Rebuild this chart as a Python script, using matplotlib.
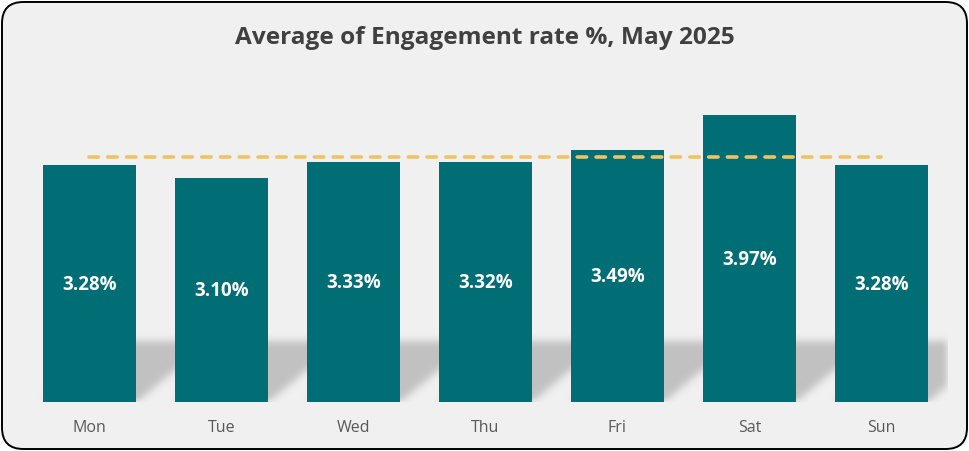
import matplotlib
matplotlib.use("Agg")
import matplotlib.pyplot as plt
import numpy as np
from matplotlib.patches import FancyBboxPatch

days = ['Mon', 'Tue', 'Wed', 'Thu', 'Fri', 'Sat', 'Sun']
rates = [3.28, 3.10, 3.33, 3.32, 3.49, 3.97, 3.28]
labels = ['3.28%', '3.10%', '3.33%', '3.32%', '3.49%', '3.97%', '3.28%']
title = 'Average of Engagement rate %, May 2025'

bg = '#F0F0F0'
teal = '#016D74'
W, H = 970, 452
plt.rcParams['font.family'] = ['Open Sans', 'DejaVu Sans']

fig = plt.figure(figsize=(W / 100, H / 100), dpi=100)
fig.patch.set_facecolor('white')

# rounded chart frame
frame = FancyBboxPatch((2 / W, 2 / H), (W - 5) / W, (H - 5) / H,
                       boxstyle='round,pad=0,rounding_size=0.022',
                       transform=fig.transFigure, facecolor=bg,
                       edgecolor='black', linewidth=1.4, mutation_aspect=W / H,
                       zorder=-10)
fig.patches.append(frame)

px_y = 72.2  # pixels per percent point
ax_bottom = 403
ymax = 4.6
ax = fig.add_axes([23.5 / W, (H - ax_bottom) / H, 924 / W, ymax * px_y / H])
ax.set_facecolor('none')

x = np.arange(len(days))
bar_w = 0.71
ax.bar(x, rates, width=bar_w, color=teal, zorder=3)

# soft slanted shadow behind the bars
nx, ny = 924, 90
gx = np.linspace(-0.5, 6.5, nx)
gy = np.linspace(0, ny / px_y, ny)
XX, YY = np.meshgrid(gx, gy)
slope = 0.65
sh_h = 0.85
mask = np.zeros_like(XX)
for xi in x:
    left = xi - bar_w / 2 + slope * YY
    right = xi + bar_w / 2 + slope * YY
    mask[(XX >= left) & (XX <= right) & (YY <= sh_h)] = 1.0
k = np.ones(9) / 9
for _ in range(2):
    mask = np.apply_along_axis(lambda r: np.convolve(r, k, mode='same'), 1, mask)
    mask = np.apply_along_axis(lambda c: np.convolve(c, k, mode='same'), 0, mask)
rgba = np.zeros((ny, nx, 4))
rgba[..., :3] = 0.75
rgba[..., 3] = np.clip(mask, 0, 1) * 0.95
ax.imshow(rgba, extent=(-0.5, 6.5, 0, ny / px_y), origin='lower',
          aspect='auto', zorder=1, interpolation='bilinear')
ax.set_ylim(0, ymax)
ax.set_xlim(-0.5, 6.5)

# average line
avg = np.mean(rates)
ax.plot([0, 6], [avg, avg], color='#EEC462', linewidth=2.6,
        linestyle=(0, (2.6, 2.6)), dash_capstyle='round', zorder=4)

for xi, r, lab in zip(x, rates, labels):
    ax.text(xi, r / 2, lab, ha='center', va='center', color='white',
            fontsize=13.5, fontweight='bold', zorder=5)

ax.set_xticks(x)
ax.set_xticklabels(days, fontsize=11.5, color='#595959')
ax.tick_params(axis='x', length=0, pad=12)
ax.set_yticks([])
for s in ax.spines.values():
    s.set_visible(False)

fig.text(0.5, (H - 38) / H, title, ha='center', va='center',
         fontsize=17.6, fontweight='bold', color='#404040')

fig.savefig('out.png', dpi=100, facecolor='white')
